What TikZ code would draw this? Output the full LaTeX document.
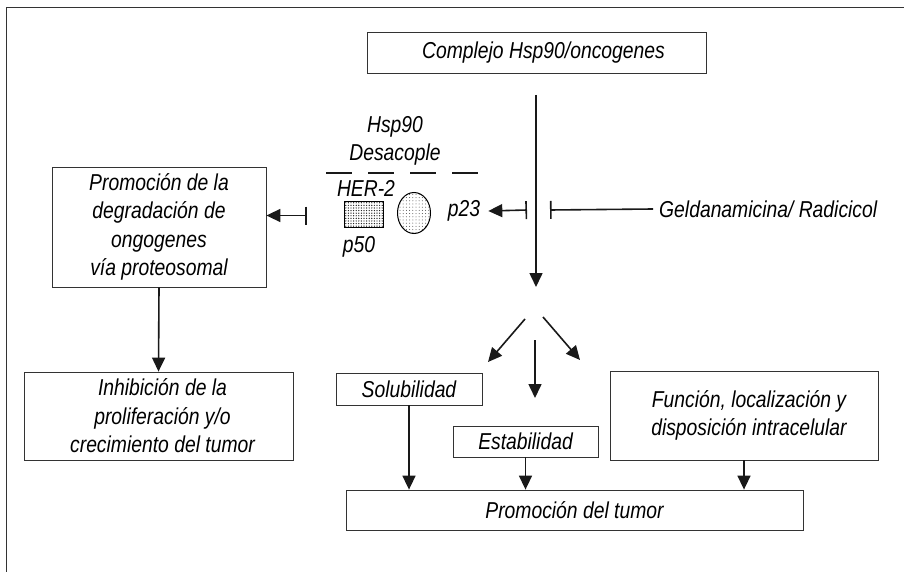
\documentclass[tikz,border=0pt]{standalone}
\usepackage{fontspec}
\setmainfont{Liberation Sans}[FakeStretch=0.84]
\usetikzlibrary{arrows.meta,patterns.meta,shapes.geometric}
\newcommand\figfont{\fontsize{23}{28.5}\selectfont\itshape}
\begin{document}
\begin{tikzpicture}[x=1pt,y=-1pt,
  box/.style={draw=black!80, line width=0.8pt, inner sep=0pt, align=center, font=\figfont},
  lbl/.style={inner sep=0pt, align=center, font=\figfont},
  conn/.style={draw=black!90, line width=1.6pt},
  arr/.style={conn, -{Triangle[length=14pt,width=13pt]}},
  inharr/.style={conn, {Bar[width=18pt]}-{Triangle[length=14pt,width=13pt]}},
  inhbar/.style={conn, -{Bar[width=18pt]}}
]
\useasboundingbox (0,0) rectangle (904,572);

% frame
\draw[line width=1.8pt, black!80] (904,7.5) -- (6.5,7.5) -- (6.5,572);

% boxes
\node[box, minimum width=339pt, minimum height=41pt] (cplx) at (536.5,52.5) {\hspace{14pt}Complejo Hsp90/oncogenes};
\node[box, minimum width=214pt, minimum height=120pt] (deg) at (159,227)
  {Promoción de la\\degradación de\\ongogenes\\vía proteosomal};
\node[box, minimum width=269pt, minimum height=88pt] (inh) at (158.5,416)
  {\hspace{8pt}Inhibición de la\\\hspace{8pt}proliferación y/o\\\hspace{8pt}crecimiento del tumor};
\node[box, minimum width=146pt, minimum height=32pt] (sol) at (409,389) {Solubilidad};
\node[box, minimum width=145pt, minimum height=31pt] (est) at (525.5,441.5) {Estabilidad};
\node[box, minimum width=268pt, minimum height=89pt] (fun) at (744,415.5)
  {\hspace{10pt}Función, localización y\\\hspace{10pt}disposición intracelular};
\node[box, minimum width=457pt, minimum height=40pt] (tum) at (574.5,510) {Promoción del tumor};

% labels around the uncoupling step
\node[lbl] (hsp) at (395,127) {Hsp90};
\node[lbl] (desa) at (395,155) {Desacople};
\node[lbl] (her) at (366,188) {HER-2};
\node[lbl] (p50) at (359,247) {p50};
\node[lbl] (p23) at (464,211) {p23};
\node[lbl, anchor=west] (geld) at (659,209) {Geldanamicina/ Radicicol};

% dissociated chaperone partners
\node[draw, line width=1pt, minimum width=39pt, minimum height=26pt, inner sep=0pt,
  pattern={Dots[distance=2.6pt, radius=0.7pt]}, pattern color=black!85] (rect) at (363.5,214) {};
\node[draw, ellipse, line width=1pt, minimum width=33pt, minimum height=41pt, inner sep=0pt,
  pattern={Dots[distance=3.2pt, radius=0.5pt]}, pattern color=black!70] (oval) at (414,213) {};
\draw[conn, dash pattern=on 26pt off 16pt] (326,173) -- (481,173);

% main pathway
\coordinate (mtop) at (536,95);
\coordinate (mbot) at (536,287);
\draw[arr] (mtop) -- (mbot);

% inhibition by the drugs
\coordinate (gbar) at (550,210);
\draw[inhbar] ([xshift=-6pt]geld.west) -- (gbar);
\coordinate (pbar) at (527,210);
\draw[inharr] (pbar) -- ([xshift=8pt]p23.east);
\coordinate (lbar) at (307,215.5);
\draw[inharr] (lbar) -- (lbar -| deg.east);

% degradation branch
\draw[arr] (deg.south) -- (inh.north);

% three outcomes
\coordinate (bl1) at (525,319); \coordinate (bl2) at (488,362);
\coordinate (bm1) at (535,340); \coordinate (bm2) at (535,398);
\coordinate (br1) at (543,317); \coordinate (br2) at (580,360);
\draw[arr] (bl1) -- (bl2);
\draw[arr] (bm1) -- (bm2);
\draw[arr] (br1) -- (br2);

% into tumour promotion
\draw[arr] (sol.south) -- (sol.south |- tum.north);
\draw[arr] (est.south) -- (est.south |- tum.north);
\draw[arr] (fun.south) -- (fun.south |- tum.north);
\end{tikzpicture}
\end{document}
